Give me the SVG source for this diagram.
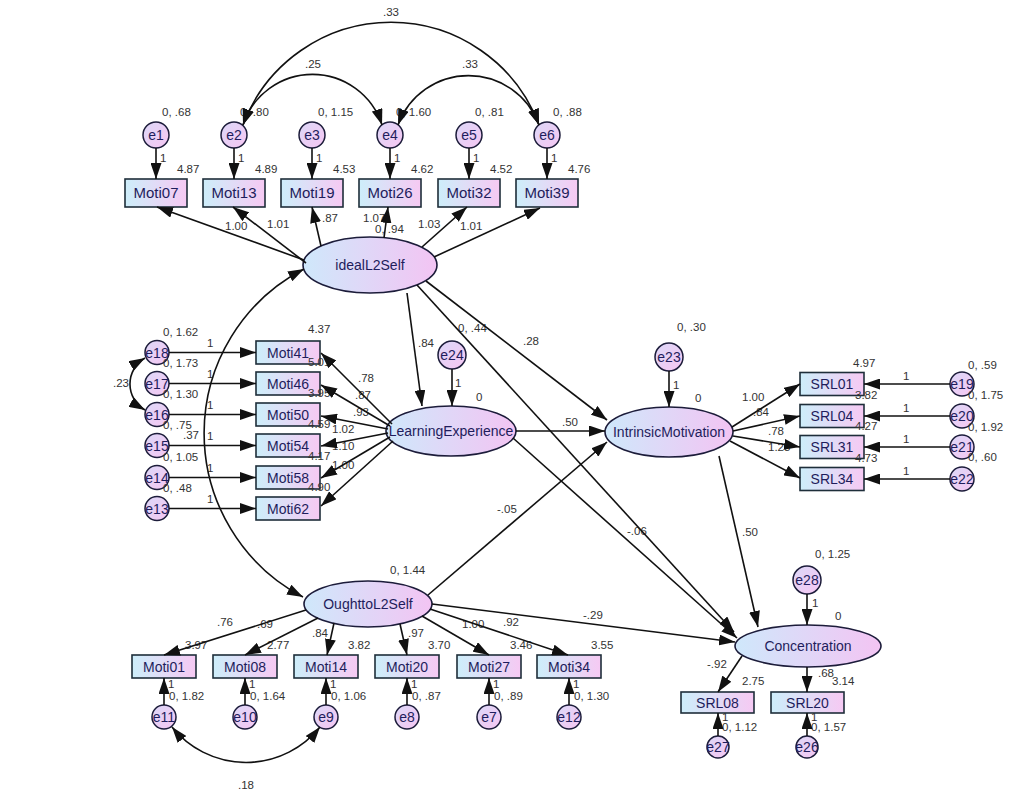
<svg xmlns="http://www.w3.org/2000/svg" width="1024" height="799" viewBox="0 0 1024 799">
<style>
text{font-family:"Liberation Sans",Arial,sans-serif}
.box rect{fill:url(#gBox);stroke:#1e2e3a;stroke-width:1.6}
.lat ellipse{fill:url(#gEll);stroke:#1c1c3a;stroke-width:1.6}
.err circle{fill:url(#gErr);stroke:#1c1c3a;stroke-width:1.5}
.box text,.lat text,.err text{font-size:14px;fill:#1f1d5c;text-anchor:middle}
.big text{font-size:15px}
.lbl{font-size:11.5px;fill:#333}
#connectors path{fill:none;stroke:#111;stroke-width:1.6}
.a{marker-end:url(#ah)}
.c{marker-end:url(#ah);marker-start:url(#ahs)}
</style>
<defs>
<linearGradient id="gBox" x1="0" y1="0" x2="1" y2="0"><stop offset="0" stop-color="#cdeefa"/><stop offset="1" stop-color="#f6c9f3"/></linearGradient>
<linearGradient id="gEll" x1="0" y1="0" x2="1" y2="0"><stop offset="0" stop-color="#cfe8fb"/><stop offset="1" stop-color="#f3c4f3"/></linearGradient>
<linearGradient id="gErr" x1="0" y1="0" x2="1" y2="1"><stop offset="0" stop-color="#dcd8f8"/><stop offset="1" stop-color="#f6c6f2"/></linearGradient>
<marker id="ah" markerUnits="userSpaceOnUse" markerWidth="16" markerHeight="11" refX="16" refY="5.5" orient="auto"><path d="M0,0 L16,5.5 L0,11 z" fill="#111"/></marker>
<marker id="ahs" markerUnits="userSpaceOnUse" markerWidth="16" markerHeight="11" refX="16" refY="5.5" orient="auto-start-reverse"><path d="M0,0 L16,5.5 L0,11 z" fill="#111"/></marker>
</defs>
<rect width="1024" height="799" fill="#fff"/>

<!-- top row -->
<g id="e1" class="err"><circle cx="156" cy="135" r="13"/><text x="156" y="140">e1</text></g>
<g id="e2" class="err"><circle cx="234" cy="135" r="13"/><text x="234" y="140">e2</text></g>
<g id="e3" class="err"><circle cx="312" cy="135" r="13"/><text x="312" y="140">e3</text></g>
<g id="e4" class="err"><circle cx="390" cy="135" r="13"/><text x="390" y="140">e4</text></g>
<g id="e5" class="err"><circle cx="469" cy="135" r="13"/><text x="469" y="140">e5</text></g>
<g id="e6" class="err"><circle cx="547" cy="135" r="13"/><text x="547" y="140">e6</text></g>
<g id="Moti07" class="box big"><rect x="125" y="179" width="62" height="28"/><text x="156" y="198">Moti07</text></g>
<g id="Moti13" class="box big"><rect x="203" y="179" width="62" height="28"/><text x="234" y="198">Moti13</text></g>
<g id="Moti19" class="box big"><rect x="281" y="179" width="62" height="28"/><text x="312" y="198">Moti19</text></g>
<g id="Moti26" class="box big"><rect x="359" y="179" width="62" height="28"/><text x="390" y="198">Moti26</text></g>
<g id="Moti32" class="box big"><rect x="438" y="179" width="62" height="28"/><text x="469" y="198">Moti32</text></g>
<g id="Moti39" class="box big"><rect x="516" y="179" width="62" height="28"/><text x="547" y="198">Moti39</text></g>

<!-- latents -->
<g id="idealL2Self" class="lat"><ellipse cx="370" cy="265" rx="67" ry="28"/><text x="370" y="270">idealL2Self</text></g>
<g id="LearningExperience" class="lat"><ellipse cx="451" cy="431" rx="65" ry="25"/><text x="451" y="436">LearningExperience</text></g>
<g id="IntrinsicMotivation" class="lat"><ellipse cx="669" cy="432" rx="64" ry="25"/><text x="669" y="437">IntrinsicMotivation</text></g>
<g id="OughttoL2Self" class="lat"><ellipse cx="368" cy="604" rx="64" ry="23"/><text x="368" y="609">OughttoL2Self</text></g>
<g id="Concentration" class="lat"><ellipse cx="808" cy="646" rx="73" ry="21"/><text x="808" y="651">Concentration</text></g>
<g id="e24" class="err"><circle cx="452" cy="355" r="14"/><text x="452" y="360">e24</text></g>
<g id="e23" class="err"><circle cx="669" cy="357" r="14"/><text x="669" y="362">e23</text></g>
<g id="e28" class="err"><circle cx="807" cy="580" r="14"/><text x="807" y="585">e28</text></g>

<!-- left block -->
<g id="e18" class="err"><circle cx="157" cy="352.5" r="12"/><text x="157" y="357.5">e18</text></g>
<g id="e17" class="err"><circle cx="157" cy="383.5" r="12"/><text x="157" y="388.5">e17</text></g>
<g id="e16" class="err"><circle cx="157" cy="414.5" r="12"/><text x="157" y="419.5">e16</text></g>
<g id="e15" class="err"><circle cx="157" cy="445.5" r="12"/><text x="157" y="450.5">e15</text></g>
<g id="e14" class="err"><circle cx="157" cy="477.5" r="12"/><text x="157" y="482.5">e14</text></g>
<g id="e13" class="err"><circle cx="157" cy="508.5" r="12"/><text x="157" y="513.5">e13</text></g>
<g id="Moti41" class="box"><rect x="256" y="341" width="64" height="23"/><text x="288" y="357.5">Moti41</text></g>
<g id="Moti46" class="box"><rect x="256" y="372" width="64" height="23"/><text x="288" y="388.5">Moti46</text></g>
<g id="Moti50" class="box"><rect x="256" y="403" width="64" height="23"/><text x="288" y="419.5">Moti50</text></g>
<g id="Moti54" class="box"><rect x="256" y="434" width="64" height="23"/><text x="288" y="450.5">Moti54</text></g>
<g id="Moti58" class="box"><rect x="256" y="466" width="64" height="23"/><text x="288" y="482.5">Moti58</text></g>
<g id="Moti62" class="box"><rect x="256" y="497" width="64" height="23"/><text x="288" y="513.5">Moti62</text></g>

<!-- right block -->
<g id="SRL01" class="box"><rect x="800" y="372.5" width="64" height="23"/><text x="832" y="389">SRL01</text></g>
<g id="SRL04" class="box"><rect x="800" y="404.5" width="64" height="23"/><text x="832" y="421">SRL04</text></g>
<g id="SRL31" class="box"><rect x="800" y="435.5" width="64" height="23"/><text x="832" y="452">SRL31</text></g>
<g id="SRL34" class="box"><rect x="800" y="467.5" width="64" height="23"/><text x="832" y="484">SRL34</text></g>
<g id="e19" class="err"><circle cx="962" cy="384" r="12"/><text x="962" y="389">e19</text></g>
<g id="e20" class="err"><circle cx="962" cy="416" r="12"/><text x="962" y="421">e20</text></g>
<g id="e21" class="err"><circle cx="962" cy="447" r="12"/><text x="962" y="452">e21</text></g>
<g id="e22" class="err"><circle cx="962" cy="479" r="12"/><text x="962" y="484">e22</text></g>

<!-- bottom row -->
<g id="Moti01" class="box"><rect x="132" y="655" width="64" height="23"/><text x="164" y="671.5">Moti01</text></g>
<g id="Moti08" class="box"><rect x="213" y="655" width="64" height="23"/><text x="245" y="671.5">Moti08</text></g>
<g id="Moti14" class="box"><rect x="294" y="655" width="64" height="23"/><text x="326" y="671.5">Moti14</text></g>
<g id="Moti20" class="box"><rect x="375" y="655" width="64" height="23"/><text x="407" y="671.5">Moti20</text></g>
<g id="Moti27" class="box"><rect x="457" y="655" width="64" height="23"/><text x="489" y="671.5">Moti27</text></g>
<g id="Moti34" class="box"><rect x="537" y="655" width="64" height="23"/><text x="569" y="671.5">Moti34</text></g>
<g id="e11" class="err"><circle cx="164" cy="717" r="12"/><text x="164" y="722">e11</text></g>
<g id="e10" class="err"><circle cx="245" cy="717" r="12"/><text x="245" y="722">e10</text></g>
<g id="e9" class="err"><circle cx="326" cy="717" r="12"/><text x="326" y="722">e9</text></g>
<g id="e8" class="err"><circle cx="407" cy="717" r="12"/><text x="407" y="722">e8</text></g>
<g id="e7" class="err"><circle cx="489" cy="717" r="12"/><text x="489" y="722">e7</text></g>
<g id="e12" class="err"><circle cx="569" cy="717" r="12"/><text x="569" y="722">e12</text></g>
<g id="SRL08" class="box"><rect x="681" y="692" width="73" height="21"/><text x="717.5" y="707.5">SRL08</text></g>
<g id="SRL20" class="box"><rect x="771" y="692" width="73" height="21"/><text x="807.5" y="707.5">SRL20</text></g>
<g id="e27" class="err"><circle cx="718" cy="747" r="11"/><text x="718" y="752">e27</text></g>
<g id="e26" class="err"><circle cx="807" cy="747" r="11"/><text x="807" y="752">e26</text></g>

<!-- labels -->
<g id="labels" class="lbl">
<text x="383" y="16">.33</text><text x="305" y="68">.25</text><text x="462" y="68">.33</text>
<text x="162" y="116">0, .68</text><text x="240" y="116">0, .80</text><text x="318" y="116">0, 1.15</text>
<text x="396" y="116">0, 1.60</text><text x="475" y="116">0, .81</text><text x="553" y="116">0, .88</text>
<text x="160" y="162">1</text><text x="238" y="162">1</text><text x="316" y="162">1</text><text x="394" y="162">1</text><text x="473" y="162">1</text><text x="551" y="162">1</text>
<text x="177" y="173">4.87</text><text x="255" y="173">4.89</text><text x="333" y="173">4.53</text><text x="411" y="173">4.62</text><text x="490" y="173">4.52</text><text x="568" y="173">4.76</text>
<text x="225" y="230">1.00</text><text x="267" y="228">1.01</text><text x="322" y="222">.87</text><text x="363" y="222">1.07</text><text x="375" y="233">0, .94</text><text x="418" y="228">1.03</text><text x="460" y="230">1.01</text>
<text x="418" y="347">.84</text><text x="458" y="332">0, .44</text><text x="455" y="387">1</text><text x="476" y="401">0</text>
<text x="523" y="345">.28</text><text x="562" y="426">.50</text>
<text x="677" y="331">0, .30</text><text x="673" y="389">1</text><text x="695" y="402">0</text>
<text x="163" y="336">0, 1.62</text><text x="163" y="367">0, 1.73</text><text x="163" y="398">0, 1.30</text><text x="163" y="429">0, .75</text><text x="163" y="461">0, 1.05</text><text x="163" y="492">0, .48</text>
<text x="113" y="387">.23</text><text x="183" y="439">.37</text>
<text x="207" y="347">1</text><text x="207" y="378">1</text><text x="207" y="409">1</text><text x="207" y="440">1</text><text x="207" y="472">1</text><text x="207" y="503">1</text>
<text x="308" y="333">4.37</text><text x="308" y="366">5.01</text><text x="308" y="397">3.95</text><text x="308" y="428">4.59</text><text x="308" y="460">4.17</text><text x="308" y="491">4.90</text>
<text x="358" y="382">.78</text><text x="355" y="399">.87</text><text x="353" y="416">.93</text><text x="332" y="433">1.02</text><text x="332" y="450">1.10</text><text x="332" y="469">1.00</text>
<text x="853" y="367">4.97</text><text x="855" y="399">3.82</text><text x="855" y="430">4.27</text><text x="855" y="462">4.73</text>
<text x="903" y="380">1</text><text x="903" y="412">1</text><text x="903" y="443">1</text><text x="903" y="475">1</text>
<text x="968" y="369">0, .59</text><text x="968" y="399">0, 1.75</text><text x="968" y="431">0, 1.92</text><text x="968" y="461">0, .60</text>
<text x="742" y="401">1.00</text><text x="753" y="416">.84</text><text x="768" y="435">.78</text><text x="768" y="451">1.28</text>
<text x="497" y="513">-.05</text><text x="627" y="535">-.06</text><text x="583" y="619">-.29</text><text x="742" y="536">.50</text>
<text x="390" y="574">0, 1.44</text>
<text x="217" y="626">.76</text><text x="257" y="628">.69</text><text x="312" y="637">.84</text><text x="408" y="637">.97</text><text x="462" y="628">1.00</text><text x="503" y="626">.92</text>
<text x="185" y="649">3.97</text><text x="267" y="649">2.77</text><text x="348" y="649">3.82</text><text x="428" y="649">3.70</text><text x="510" y="649">3.46</text><text x="591" y="649">3.55</text>
<text x="168" y="688">1</text><text x="249" y="688">1</text><text x="330" y="688">1</text><text x="411" y="688">1</text><text x="493" y="688">1</text><text x="573" y="688">1</text>
<text x="169" y="700">0, 1.82</text><text x="250" y="700">0, 1.64</text><text x="331" y="700">0, 1.06</text><text x="412" y="700">0, .87</text><text x="494" y="700">0, .89</text><text x="574" y="700">0, 1.30</text>
<text x="238" y="789">.18</text>
<text x="815" y="558">0, 1.25</text><text x="812" y="607">1</text><text x="835" y="620">0</text>
<text x="707" y="668">-.92</text><text x="818" y="677">.68</text><text x="742" y="685">2.75</text><text x="832" y="685">3.14</text>
<text x="722" y="721">1</text><text x="722" y="731">0, 1.12</text><text x="811" y="721">1</text><text x="811" y="731">0, 1.57</text>
</g>

<g id="connectors">
<path class="c" d="M243,125 A73,73 0 0 1 382,125"/>
<path class="c" d="M398,125 A75,75 0 0 1 539,125"/>
<path class="c" d="M243,125 A158,158 0 0 1 539,125"/>
<path class="a" d="M156,148 L156,179"/><path class="a" d="M234,148 L234,179"/><path class="a" d="M312,148 L312,179"/>
<path class="a" d="M390,148 L390,179"/><path class="a" d="M469,148 L469,179"/><path class="a" d="M547,148 L547,179"/>
<path class="a" d="M304,260 L157,207"/>
<path class="a" d="M306,263 L233,207"/>
<path class="a" d="M321,246 L312,207"/>
<path class="a" d="M384,238 L388,207"/>
<path class="a" d="M422,247 L467,207"/>
<path class="a" d="M434,257 L540,208"/>
<path class="c" d="M304,269 A185,185 0 0 0 303,597"/>
<path class="a" d="M407,293 L422,406"/>
<path class="a" d="M426,281 L607,420"/>
<path class="a" d="M417,285 L734,632"/>
<path class="a" d="M452,369 L452,406"/>
<path class="a" d="M516,431 L605,431"/>
<path class="a" d="M513,438 L737,638"/>
<path class="a" d="M669,371 L669,407"/>
<path class="a" d="M392,424 L321,353"/>
<path class="a" d="M390,426 L321,385"/>
<path class="a" d="M388,429 L321,416"/>
<path class="a" d="M388,433 L321,446"/>
<path class="a" d="M390,437 L321,478"/>
<path class="a" d="M393,441 L321,506"/>
<path class="a" d="M169,352.5 L256,352.5"/><path class="a" d="M169,383.5 L256,383.5"/><path class="a" d="M169,414.5 L256,414.5"/>
<path class="a" d="M169,445.5 L256,445.5"/><path class="a" d="M169,477.5 L256,477.5"/><path class="a" d="M169,508.5 L256,508.5"/>
<path class="c" d="M145,358 A30,30 0 0 0 145,410"/>
<path class="a" d="M732,427 L800,384"/>
<path class="a" d="M733,431 L800,416"/>
<path class="a" d="M733,436 L800,447"/>
<path class="a" d="M730,441 L800,478"/>
<path class="a" d="M950,384 L864,384"/><path class="a" d="M950,416 L864,416"/><path class="a" d="M950,447 L864,447"/><path class="a" d="M950,479 L864,479"/>
<path class="a" d="M428,595 L607,442"/>
<path class="a" d="M432,604 L735,642"/>
<path class="a" d="M719,456 L758,627"/>
<path class="a" d="M807,594 L807,625"/>
<path class="a" d="M306,610 L164,655"/>
<path class="a" d="M318,618 L245,655"/>
<path class="a" d="M334,623 L327,655"/>
<path class="a" d="M400,624 L407,655"/>
<path class="a" d="M422,616 L489,655"/>
<path class="a" d="M430,609 L568,655"/>
<path class="a" d="M164,705 L164,678"/><path class="a" d="M245,705 L245,678"/><path class="a" d="M326,705 L326,678"/>
<path class="a" d="M407,705 L407,678"/><path class="a" d="M489,705 L489,678"/><path class="a" d="M569,705 L569,678"/>
<path class="c" d="M172,727 A95,95 0 0 0 320,727"/>
<path class="a" d="M742,656 L718,692"/>
<path class="a" d="M807,667 L807,692"/>
<path class="a" d="M718,736 L718,713"/>
<path class="a" d="M807,736 L807,713"/>
</g>
</svg>
